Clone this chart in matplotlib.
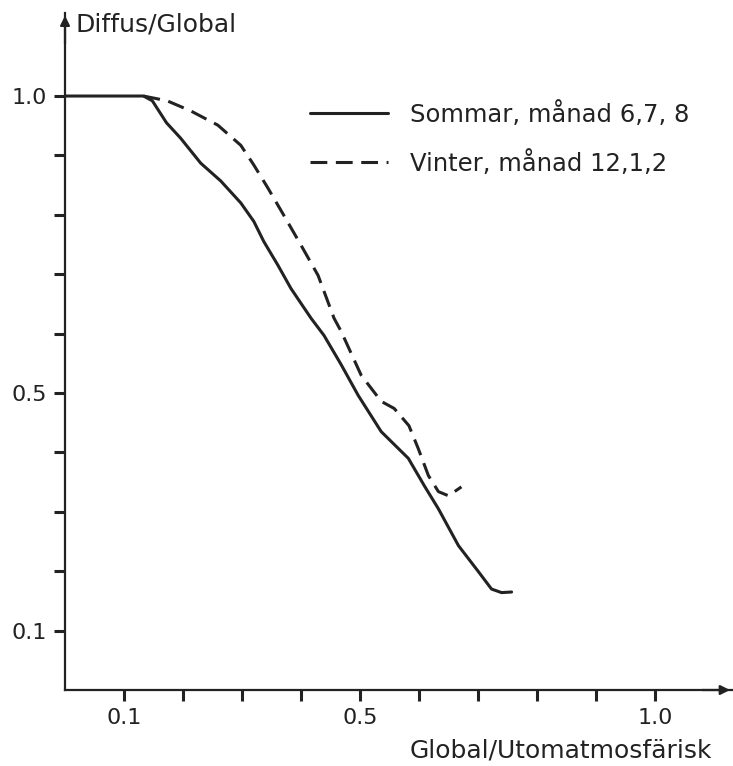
import matplotlib.pyplot as plt
import numpy as np

# values
sommar_x = [0.0, 0.133, 0.148, 0.172, 0.196, 0.230, 0.264, 0.298, 0.320, 0.337, 0.361, 0.383,
            0.417, 0.439, 0.468, 0.497, 0.536, 0.582, 0.609, 0.633, 0.667, 0.701, 0.723,
            0.740, 0.757]
sommar_y = [1.0, 1.0, 0.992, 0.955, 0.929, 0.887, 0.857, 0.820, 0.789, 0.755, 0.715, 0.676,
            0.626, 0.597, 0.548, 0.496, 0.435, 0.390, 0.344, 0.305, 0.243, 0.199, 0.170,
            0.164, 0.165]

vinter_x = [0.133, 0.173, 0.213, 0.259, 0.298, 0.320, 0.344, 0.371, 0.400, 0.429, 0.456,
            0.468, 0.502, 0.536, 0.558, 0.583, 0.599, 0.616, 0.633, 0.650, 0.672]
vinter_y = [1.0, 0.992, 0.975, 0.951, 0.917, 0.884, 0.845, 0.799, 0.749, 0.698, 0.626,
            0.604, 0.530, 0.486, 0.474, 0.445, 0.406, 0.361, 0.334, 0.327, 0.342]

ticks = [0.1, 0.2, 0.3, 0.4, 0.5, 0.6, 0.7, 0.8, 0.9, 1.0]
tick_labels = ['0.1', '', '', '', '0.5', '', '', '', '', '1.0']

ink = '#222222'
plt.rcParams['font.family'] = ['DejaVu Sans']

fig = plt.figure(figsize=(7.33, 7.66), dpi=100)
ax = fig.add_axes([0.0887, 0.0992, 0.911, 0.884])

ax.plot(sommar_x, sommar_y, color=ink, lw=2.2, solid_capstyle='round',
        solid_joinstyle='round', label='Sommar, månad 6,7, 8')
ax.plot(vinter_x, vinter_y, color=ink, lw=2.2, ls=(0, (5.5, 2.8)),
        dash_joinstyle='round', label='Vinter, månad 12,1,2')

ax.set_xlim(0, 1.132)
ax.set_ylim(0, 1.14)

for s in ['top', 'right']:
    ax.spines[s].set_visible(False)
for s in ['left', 'bottom']:
    ax.spines[s].set_linewidth(1.6)
    ax.spines[s].set_color(ink)

ax.set_xticks(ticks)
ax.set_xticklabels(tick_labels)
ax.set_yticks(ticks)
ax.set_yticklabels(tick_labels)
ax.tick_params(length=8, width=2.2, color=ink, labelcolor=ink, labelsize=16, pad=5)

# arrow heads at the end of the axes
ax.annotate('', xy=(1.0, 0), xytext=(0.95, 0), xycoords='axes fraction',
            arrowprops=dict(arrowstyle='-|>', color=ink, lw=1.6, mutation_scale=14))
ax.annotate('', xy=(0, 1.0), xytext=(0, 0.95), xycoords='axes fraction',
            arrowprops=dict(arrowstyle='-|>', color=ink, lw=1.6, mutation_scale=14))

fig.text(75 / 733, 1 - 25 / 766, 'Diffus/Global', fontsize=18, color=ink,
         ha='left', va='center')
fig.text(712 / 733, 1 - 750 / 766, 'Global/Utomatmosfärisk', fontsize=18, color=ink,
         ha='right', va='center')

ax.legend(loc='upper left', bbox_to_anchor=(310 / 733, 1 - 101 / 766),
          bbox_transform=fig.transFigure, frameon=False, fontsize=17.5,
          handlelength=3.2, handletextpad=0.9, labelspacing=0.95,
          borderpad=0, borderaxespad=0, labelcolor=ink)

fig.savefig('out.png', dpi=100, facecolor='white')
